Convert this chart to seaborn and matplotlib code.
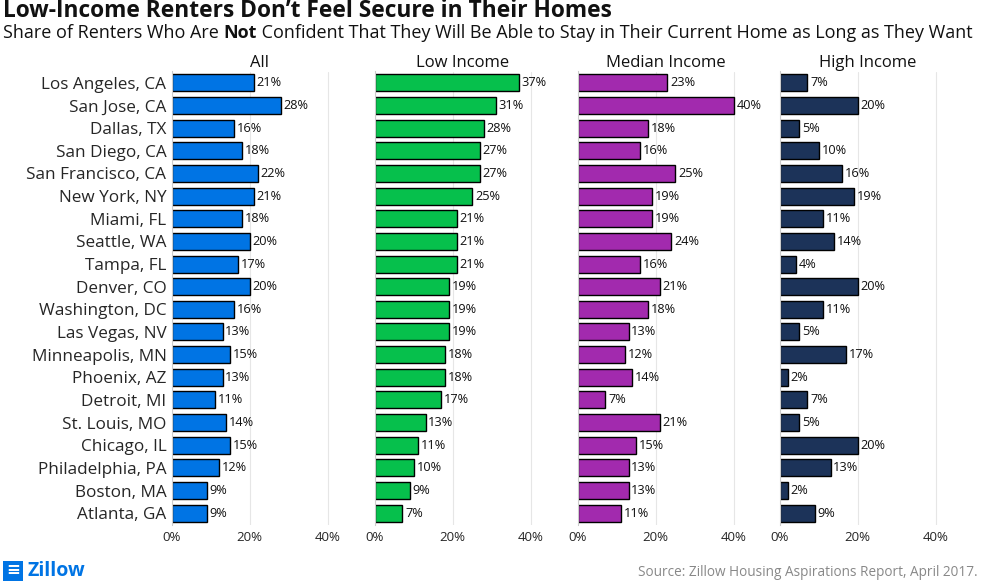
import matplotlib
matplotlib.use("Agg")
import matplotlib.pyplot as plt
import seaborn as sns
import pandas as pd

sns.set_style("white")
plt.rcParams['font.family'] = ['Open Sans', 'DejaVu Sans']

cities = ["Los Angeles, CA", "San Jose, CA", "Dallas, TX", "San Diego, CA", "San Francisco, CA",
          "New York, NY", "Miami, FL", "Seattle, WA", "Tampa, FL", "Denver, CO",
          "Washington, DC", "Las Vegas, NV", "Minneapolis, MN", "Phoenix, AZ", "Detroit, MI",
          "St. Louis, MO", "Chicago, IL", "Philadelphia, PA", "Boston, MA", "Atlanta, GA"]
all_renters = [21, 28, 16, 18, 22, 21, 18, 20, 17, 20, 16, 13, 15, 13, 11, 14, 15, 12, 9, 9]
low_income = [37, 31, 28, 27, 27, 25, 21, 21, 21, 19, 19, 19, 18, 18, 17, 13, 11, 10, 9, 7]
median_income = [23, 40, 18, 16, 25, 19, 19, 24, 16, 21, 18, 13, 12, 14, 7, 21, 15, 13, 13, 11]
high_income = [7, 20, 5, 10, 16, 19, 11, 14, 4, 20, 11, 5, 17, 2, 7, 5, 20, 13, 2, 9]

groups = ["All", "Low Income", "Median Income", "High Income"]
series = [all_renters, low_income, median_income, high_income]
colors = ["#0074E4", "#06C04C", "#A22AAE", "#1C3359"]

fig = plt.figure(figsize=(9.84, 5.84), dpi=100)
W, H = 984, 584
lefts = [172, 375, 578, 780]
ax_w = 175
top, bottom = 71.5, 524.5

for i, (name, vals, col) in enumerate(zip(groups, series, colors)):
    ax = fig.add_axes([lefts[i] / W, 1 - bottom / H, ax_w / W, (bottom - top) / H])
    df = pd.DataFrame({"city": cities, "value": vals})
    sns.barplot(data=df, x="value", y="city", ax=ax, color=col, saturation=1,
                edgecolor="black", linewidth=1, width=0.75, orient="h")
    for y, v in enumerate(vals):
        ax.text(v + 0.7, y, f"{v}%", va="center", ha="left", fontsize=9.2, color="#111111")
    ax.set_xlim(0, 45)
    ax.set_xticks([0, 20, 40])
    ax.set_xticklabels(["0%", "20%", "40%"], fontsize=9.5)
    ax.xaxis.grid(True, color="#e6e6e6", linewidth=0.8)
    ax.set_axisbelow(True)
    ax.tick_params(axis="x", length=0, pad=5)
    ax.set_xlabel("")
    ax.set_ylabel("")
    ax.set_title(name, fontsize=12, pad=3, color="#111111")
    for s in ["top", "right", "bottom"]:
        ax.spines[s].set_visible(False)
    ax.spines["left"].set_color("#cccccc")
    ax.spines["left"].set_linewidth(0.8)
    if i == 0:
        ax.tick_params(axis="y", length=0, pad=4, labelsize=12.3)
    else:
        ax.set_yticklabels([])
        ax.tick_params(axis="y", length=0)

fig.text(3 / W, 1 - 11 / H, "Low-Income Renters Don\u2019t Feel Secure in Their Homes",
         fontsize=16.4, fontweight="bold", va="center", ha="left", color="#111111")

# subtitle with bold "Not"
fig.canvas.draw()
renderer = fig.canvas.get_renderer()
parts = [("Share of Renters Who Are ", "normal"), ("Not", "bold"),
         (" Confident That They Will Be Able to Stay in Their Current Home as Long as They Want", "normal")]
x = 3 / W
for txt, wt in parts:
    t = fig.text(x, 1 - 33 / H, txt, fontsize=13.0, fontweight=wt, va="center", ha="left",
                 color="#111111")
    bb = t.get_window_extent(renderer=renderer)
    x = bb.x1 / W

fig.text(27 / W, 1 - 571 / H, "Zillow", fontsize=14, fontweight="bold", color="#0074E4",
         va="center", ha="left")
fig.patches.append(plt.Rectangle((3 / W, 1 - 581 / H), 20 / W, 20 / H, transform=fig.transFigure,
                                 facecolor="#0074E4", edgecolor="none"))
fig.text(13 / W, 1 - 570.5 / H, "\u2261", fontsize=12, fontweight="bold", color="white",
         va="center", ha="center")
fig.text(978 / W, 1 - 572 / H, "Source: Zillow Housing Aspirations Report, April 2017.",
         fontsize=9.8, color="#888888", va="center", ha="right")

fig.savefig("out.png", dpi=100)
